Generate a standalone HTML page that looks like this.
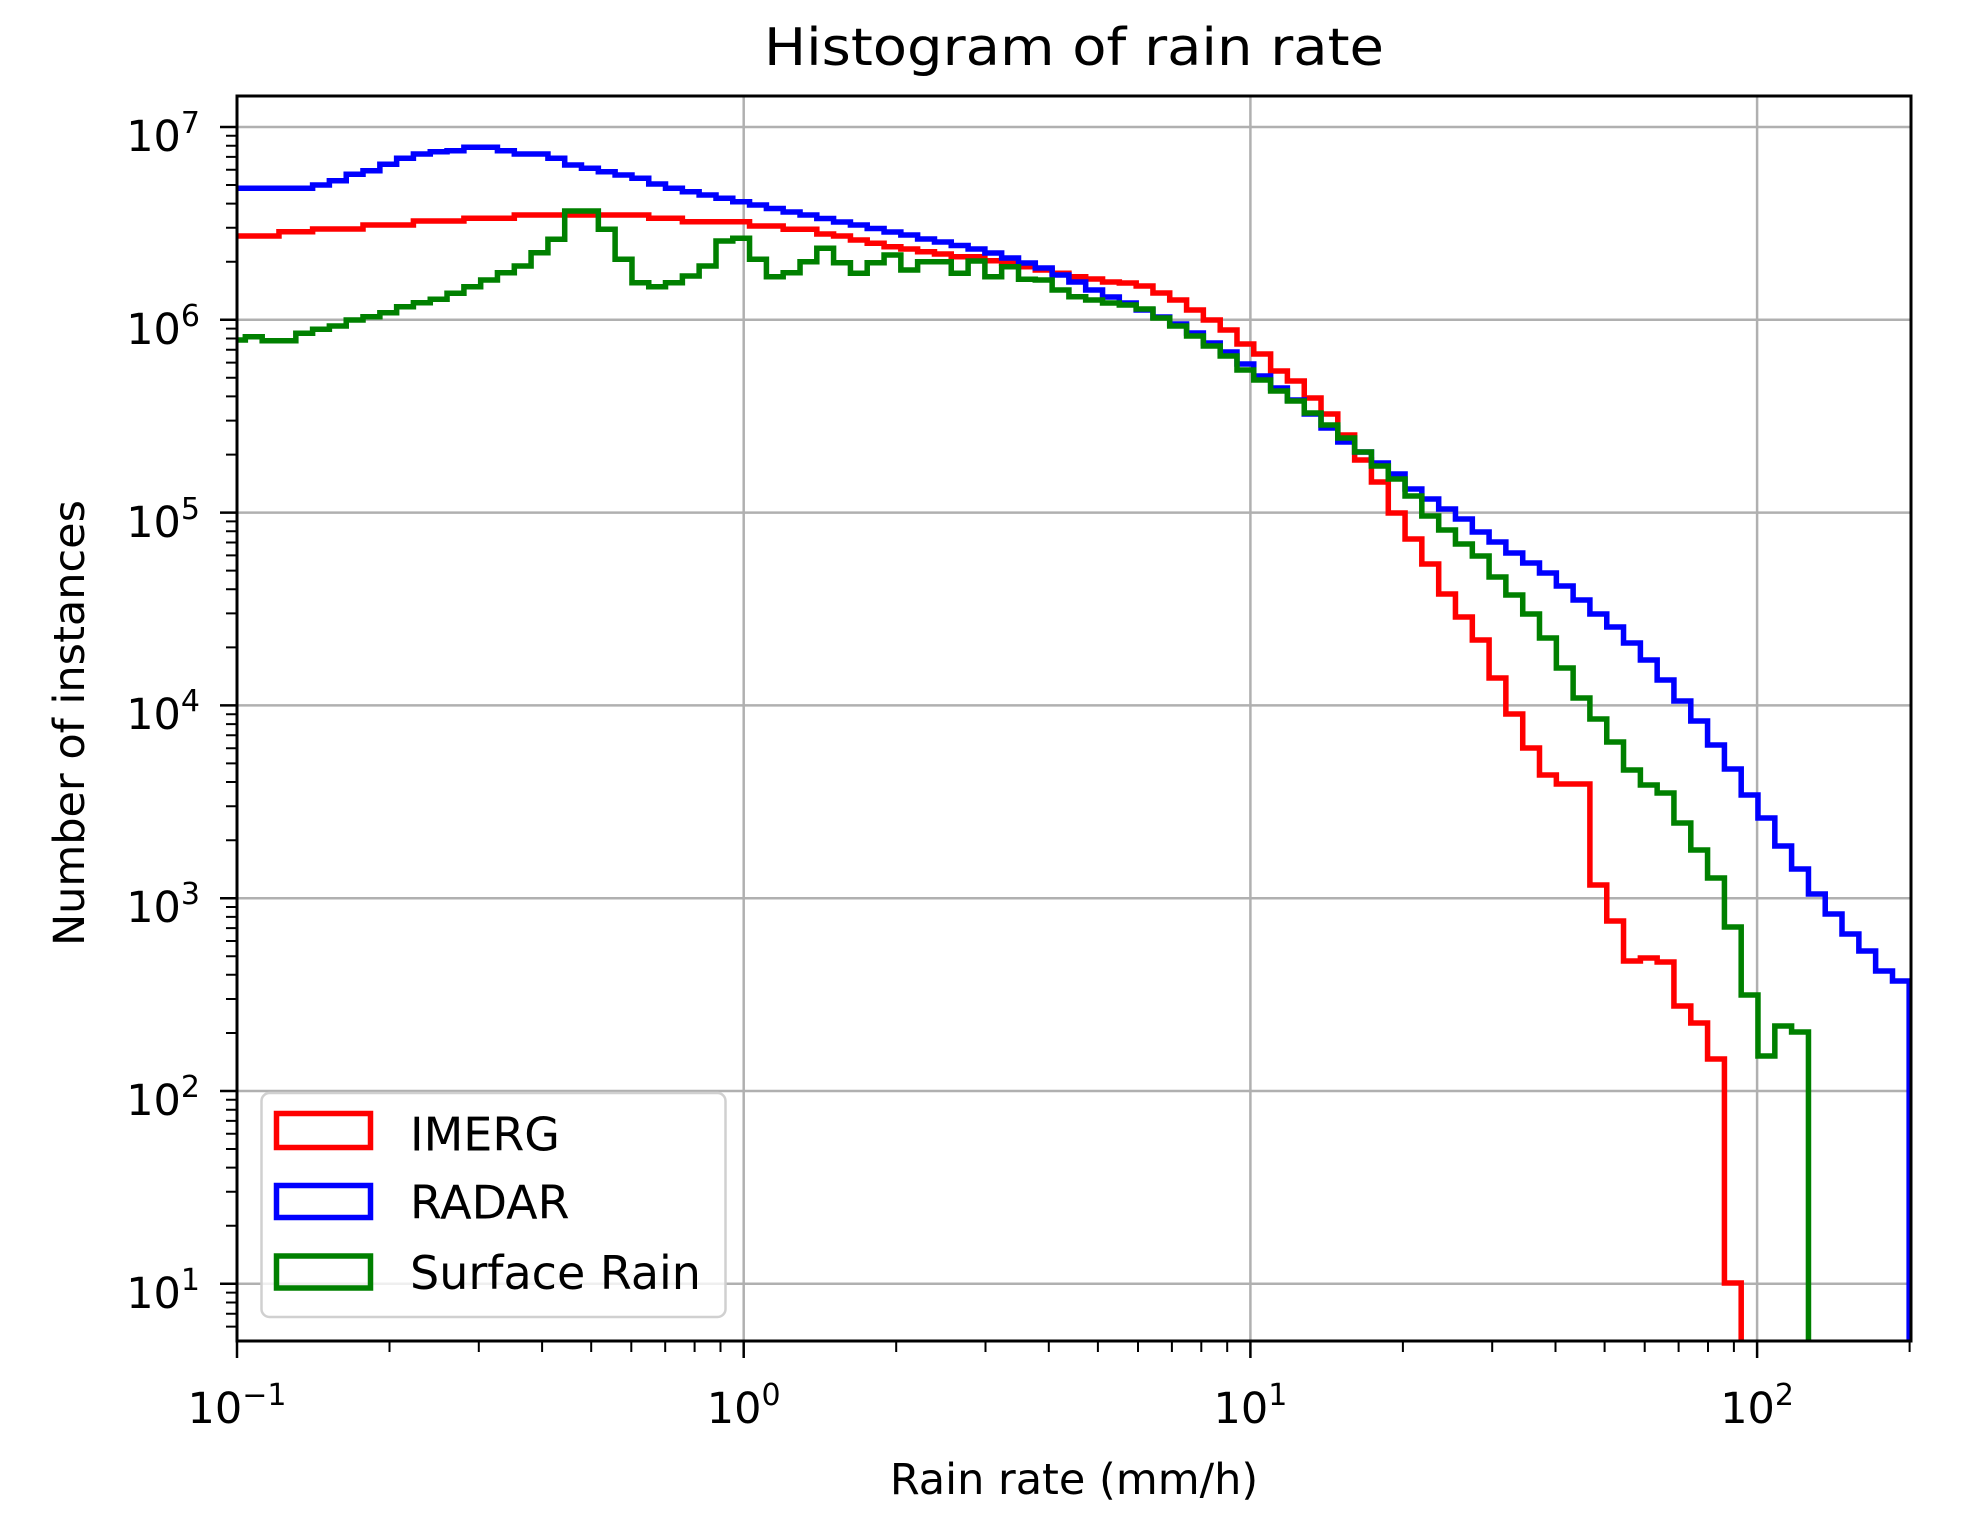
<!DOCTYPE html>
<html><head><meta charset="utf-8"><style>
html,body{margin:0;padding:0;background:#fff;}
svg{display:block;}
text{font-family:"DejaVu Sans","Liberation Sans",sans-serif;fill:#000;}
</style></head><body>
<svg width="1963" height="1525" viewBox="0 0 1963 1525" xmlns="http://www.w3.org/2000/svg">
<defs><clipPath id="ax"><rect x="237" y="96" width="1674" height="1245"/></clipPath></defs>
<rect x="0" y="0" width="1963" height="1525" fill="#fff"/>
<!-- grid -->
<g stroke="#b0b0b0" stroke-width="2.5">
<line x1="743.7" y1="96" x2="743.7" y2="1341"/>
<line x1="1250.4" y1="96" x2="1250.4" y2="1341"/>
<line x1="1757.1" y1="96" x2="1757.1" y2="1341"/>
<line x1="237" y1="127" x2="1911" y2="127"/>
<line x1="237" y1="319.8" x2="1911" y2="319.8"/>
<line x1="237" y1="512.6" x2="1911" y2="512.6"/>
<line x1="237" y1="705.4" x2="1911" y2="705.4"/>
<line x1="237" y1="898.2" x2="1911" y2="898.2"/>
<line x1="237" y1="1091" x2="1911" y2="1091"/>
<line x1="237" y1="1283.8" x2="1911" y2="1283.8"/>
</g>
<g clip-path="url(#ax)">
<g transform="matrix(1.004,0,0,1,-0.948,0)" fill="none" stroke-width="5.5" stroke-linejoin="miter">
<path stroke="#ff0000" d="M228.6,236 H278.8 V231.7 H312.3 V229 H362.5 V225 H412.7 V221 H463 V218.3 H513.2 V215 H647.1 V218.3 H680.6 V221.7 H747.5 V226 H781 V229.3 H814.5 V234 H831.2 V236 H848 V240 H864.7 V243.3 H881.5 V246.7 H898.2 V249 H914.9 V251.7 H931.7 V254 H948.4 V256.7 H981.9 V260.7 H998.6 V263.3 H1015.4 V266.7 H1032.1 V270 H1048.9 V273.3 H1065.6 V276.7 H1082.3 V279 H1099.1 V282 H1115.8 V283 H1132.6 V286 H1149.3 V293 H1166 V300 H1182.8 V310 H1199.5 V320 H1216.3 V330 H1233 V344 H1249.7 V354 H1266.5 V371 H1283.2 V381 H1300 V398 H1316.7 V414 H1333.4 V435 H1350.2 V460 H1366.9 V482 H1383.7 V513 H1400.4 V539 H1417.1 V564 H1433.9 V594 H1450.6 V617 H1467.4 V640 H1484.1 V678 H1500.8 V714 H1517.6 V748 H1534.3 V775 H1551.1 V784 H1584.5 V885 H1601.3 V921 H1618 V961 H1634.8 V958 H1651.5 V962 H1668.2 V1006 H1685 V1023 H1701.7 V1059 H1718.5 V1283 H1735.2 V1360"/>
<path stroke="#0000ff" d="M228.6,188.3 H312.3 V185 H329 V180.7 H345.8 V174.3 H362.5 V170.7 H379.3 V164.3 H396 V158.3 H412.7 V154 H429.5 V151.7 H446.2 V150.7 H463 V147.3 H496.4 V150.7 H513.2 V154 H546.7 V158.3 H563.4 V165 H580.1 V168.3 H596.9 V171.7 H613.6 V175 H630.4 V178.3 H647.1 V184 H663.8 V188.3 H680.6 V191.7 H697.3 V195 H714.1 V198.3 H730.8 V201.7 H747.5 V205 H764.3 V208.5 H781 V212 H797.8 V215 H814.5 V218.5 H831.2 V222 H848 V225 H864.7 V228.5 H881.5 V232 H898.2 V235 H914.9 V239 H931.7 V242 H948.4 V245.5 H965.2 V249 H981.9 V253 H998.6 V258 H1015.4 V263 H1032.1 V268 H1048.9 V275 H1065.6 V282 H1082.3 V290 H1099.1 V297 H1115.8 V303 H1132.6 V310 H1149.3 V317 H1166 V324 H1182.8 V333 H1199.5 V343 H1216.3 V352 H1233 V364 H1249.7 V376 H1266.5 V388 H1283.2 V400 H1300 V414 H1316.7 V428 H1333.4 V442 H1350.2 V452 H1366.9 V463 H1383.7 V474 H1400.4 V489 H1417.1 V499 H1433.9 V509 H1450.6 V519 H1467.4 V532 H1484.1 V542 H1500.8 V553 H1517.6 V563 H1534.3 V573 H1551.1 V586 H1567.8 V600 H1584.5 V614 H1601.3 V627 H1618 V643 H1634.8 V660 H1651.5 V680 H1668.2 V701 H1685 V721 H1701.7 V745 H1718.5 V769 H1735.2 V795 H1751.9 V818 H1768.7 V846 H1785.4 V869 H1802.2 V894 H1818.9 V914 H1835.6 V934 H1852.4 V951 H1869.1 V971 H1885.9 V981 H1902.5 V1360"/>
<path stroke="#008000" d="M228.6,340 H245.3 V336.7 H262.1 V340.7 H295.6 V333.3 H312.3 V329.3 H329 V326 H345.8 V320 H362.5 V316.7 H379.3 V312.7 H396 V306.7 H412.7 V302.7 H429.5 V299.3 H446.2 V293.3 H463 V286.7 H479.7 V280 H496.4 V272.7 H513.2 V266 H529.9 V252.7 H546.7 V239.3 H563.4 V211 H596.9 V229.3 H613.6 V259.3 H630.4 V282.7 H647.1 V286.7 H663.8 V282.7 H680.6 V276 H697.3 V266 H714.1 V241 H730.8 V238.3 H747.5 V259.3 H764.3 V276.7 H781 V272.7 H797.8 V261.7 H814.5 V248.3 H831.2 V262.7 H848 V273.3 H864.7 V262.7 H881.5 V255 H898.2 V270 H914.9 V261.7 H948.4 V273.3 H965.2 V261 H981.9 V276.7 H998.6 V266.7 H1015.4 V279.3 H1032.1 V280 H1048.9 V290 H1065.6 V296.7 H1082.3 V300 H1099.1 V303 H1115.8 V305 H1132.6 V309 H1149.3 V318 H1166 V326 H1182.8 V336 H1199.5 V346 H1216.3 V356 H1233 V370 H1249.7 V380 H1266.5 V391 H1283.2 V401 H1300 V413 H1316.7 V425 H1333.4 V438 H1350.2 V452 H1366.9 V466 H1383.7 V479 H1400.4 V496 H1417.1 V516 H1433.9 V530 H1450.6 V544 H1467.4 V556 H1484.1 V577 H1500.8 V595 H1517.6 V614 H1534.3 V638 H1551.1 V668 H1567.8 V698 H1584.5 V719 H1601.3 V742 H1618 V770 H1634.8 V785 H1651.5 V793 H1668.2 V823 H1685 V850 H1701.7 V878 H1718.5 V927 H1735.2 V995 H1751.9 V1056 H1768.7 V1026 H1785.4 V1032 H1802.2 V1360"/>
</g>
</g>
<!-- ticks -->
<g stroke="#000" stroke-width="2.5">
<line x1="237" y1="1341" x2="237" y2="1358"/>
<line x1="743.7" y1="1341" x2="743.7" y2="1358"/>
<line x1="1250.4" y1="1341" x2="1250.4" y2="1358"/>
<line x1="1757.1" y1="1341" x2="1757.1" y2="1358"/>
<path stroke-width="2" d="M389.5,1341v11M478.8,1341v11M542.1,1341v11M591.2,1341v11M631.3,1341v11M665.2,1341v11M694.6,1341v11M720.5,1341v11M896.2,1341v11M985.5,1341v11M1048.8,1341v11M1097.9,1341v11M1138,1341v11M1171.9,1341v11M1201.3,1341v11M1227.2,1341v11M1402.9,1341v11M1492.2,1341v11M1555.5,1341v11M1604.6,1341v11M1644.7,1341v11M1678.6,1341v11M1708,1341v11M1733.9,1341v11M1909.6,1341v11"/>
<path d="M237,127h-17M237,319.8h-17M237,512.6h-17M237,705.4h-17M237,898.2h-17M237,1091h-17M237,1283.8h-17"/>
<path stroke-width="2" d="M237,1326.6h-11M237,1313.7h-11M237,1302.5h-11M237,1292.6h-11M237,1225.8h-11M237,1191.8h-11M237,1167.6h-11M237,1149h-11M237,1133.8h-11M237,1120.9h-11M237,1109.7h-11M237,1099.8h-11M237,1033h-11M237,999h-11M237,974.8h-11M237,956.2h-11M237,941h-11M237,928.1h-11M237,916.9h-11M237,907h-11M237,840.2h-11M237,806.2h-11M237,782h-11M237,763.4h-11M237,748.2h-11M237,735.3h-11M237,724.1h-11M237,714.2h-11M237,647.4h-11M237,613.4h-11M237,589.2h-11M237,570.6h-11M237,555.4h-11M237,542.5h-11M237,531.3h-11M237,521.4h-11M237,454.6h-11M237,420.6h-11M237,396.4h-11M237,377.8h-11M237,362.6h-11M237,349.7h-11M237,338.5h-11M237,328.6h-11M237,261.8h-11M237,227.8h-11M237,203.6h-11M237,185h-11M237,169.8h-11M237,156.9h-11M237,145.7h-11M237,135.8h-11"/>
</g>
<rect x="237" y="96" width="1674" height="1245" fill="none" stroke="#000" stroke-width="3"/>
<!-- legend -->
<rect x="261.5" y="1093" width="464" height="224" rx="8" fill="#fff" fill-opacity="0.8" stroke="#d0d0d0" stroke-width="2.5"/>
<rect x="276.5" y="1113.5" width="94" height="34" fill="none" stroke="#ff0000" stroke-width="5.5"/>
<rect x="276.5" y="1185.5" width="94" height="32" fill="none" stroke="#0000ff" stroke-width="5.5"/>
<rect x="276.5" y="1256" width="94" height="32" fill="none" stroke="#008000" stroke-width="5.5"/>
<text x="410" y="1150.7" font-size="46">IMERG</text>
<text x="410" y="1218.3" font-size="46">RADAR</text>
<text x="410" y="1289" font-size="46">Surface Rain</text>
<!-- y tick labels -->
<g font-size="43" text-anchor="end">
<text x="200" y="151">10<tspan font-size="30" dy="-18">7</tspan></text>
<text x="200" y="344">10<tspan font-size="30" dy="-18">6</tspan></text>
<text x="200" y="537">10<tspan font-size="30" dy="-18">5</tspan></text>
<text x="200" y="729">10<tspan font-size="30" dy="-18">4</tspan></text>
<text x="200" y="922">10<tspan font-size="30" dy="-18">3</tspan></text>
<text x="200" y="1115">10<tspan font-size="30" dy="-18">2</tspan></text>
<text x="200" y="1308">10<tspan font-size="30" dy="-18">1</tspan></text>
</g>
<g font-size="43" text-anchor="middle">
<text x="237" y="1423">10<tspan font-size="30" dy="-18">−1</tspan></text>
<text x="743.7" y="1423">10<tspan font-size="30" dy="-18">0</tspan></text>
<text x="1250.4" y="1423">10<tspan font-size="30" dy="-18">1</tspan></text>
<text x="1757.1" y="1423">10<tspan font-size="30" dy="-18">2</tspan></text>
</g>
<text x="1074" y="1494" font-size="43" text-anchor="middle">Rain rate (mm/h)</text>
<text x="0" y="0" font-size="43" text-anchor="middle" transform="translate(84,723) rotate(-90)">Number of instances</text>
<text x="1074" y="65" font-size="52" text-anchor="middle" textLength="620" lengthAdjust="spacingAndGlyphs">Histogram of rain rate</text>
</svg>
</body></html>
